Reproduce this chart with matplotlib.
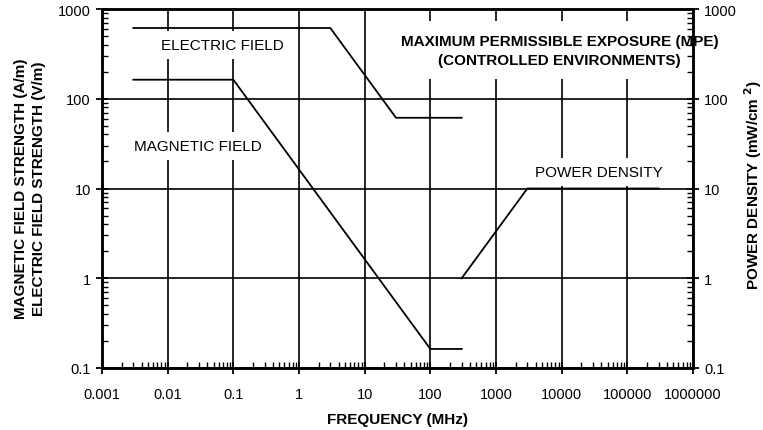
import numpy as np
import matplotlib.pyplot as plt
from matplotlib.ticker import FixedLocator, LogLocator, NullFormatter

plt.rcParams['font.family'] = ['Liberation Sans', 'DejaVu Sans']

# MPE limits, controlled environments (frequency in MHz)
e_freq = [0.003, 3, 30, 300]
e_field = [614, 614, 61.4, 61.4]          # V/m

h_freq = [0.003, 0.1, 100, 300]
h_field = [163, 163, 0.163, 0.163]        # A/m

s_freq = [300, 3000, 300000]
s_dens = [1, 10, 10]                      # mW/cm^2

xticks = [0.001, 0.01, 0.1, 1, 10, 100, 1000, 10000, 100000, 1000000]
xtick_labels = ['0.001', '0.01', '0.1', '1', '10', '100', '1000', '10000', '100000', '1000000']
yticks = [0.1, 1, 10, 100, 1000]
ytick_labels = ['0.1', '1', '10', '100', '1000']

fig = plt.figure(figsize=(7.63, 4.31), dpi=100)
ax = fig.add_axes([102/763, 1 - 369/431, 591/763, 359/431])

ax.set_xscale('log')
ax.set_yscale('log')
ax.set_xlim(0.001, 1000000)
ax.set_ylim(0.1, 1000)

ax.grid(True, which='major', color='black', lw=1.2)

lw = 1.3
ax.plot(e_freq, e_field, color='black', lw=lw, zorder=4)
ax.plot(h_freq, h_field, color='black', lw=lw, zorder=4)
ax.plot(s_freq, s_dens, color='black', lw=lw, zorder=4)

box = dict(facecolor='white', edgecolor='none', pad=5)
ax.text(0.067, 400, 'ELECTRIC FIELD', fontsize=11, ha='center', va='center', bbox=box, zorder=3)
ax.text(0.0284, 29.5, 'MAGNETIC FIELD', fontsize=11, ha='center', va='center', bbox=box, zorder=3)
ax.text(37000, 15.3, 'POWER DENSITY', fontsize=11, ha='center', va='center', bbox=box, zorder=3)
ax.text(9300, 345, 'MAXIMUM PERMISSIBLE EXPOSURE (MPE)\n(CONTROLLED ENVIRONMENTS)',
        fontsize=11, fontweight='bold', ha='center', va='center', linespacing=1.45,
        bbox=dict(facecolor='white', edgecolor='none', pad=9), zorder=3)

for s in ax.spines.values():
    s.set_linewidth(1.8)
    s.set_zorder(5)

ax.xaxis.set_major_locator(FixedLocator(xticks))
ax.set_xticklabels(xtick_labels)
ax.xaxis.set_minor_locator(LogLocator(base=10, subs=np.arange(2, 10), numticks=20))
ax.xaxis.set_minor_formatter(NullFormatter())
ax.yaxis.set_major_locator(FixedLocator(yticks))
ax.set_yticklabels(ytick_labels)
ax.yaxis.set_minor_locator(LogLocator(base=10, subs=np.arange(2, 10), numticks=20))
ax.yaxis.set_minor_formatter(NullFormatter())

ax.tick_params(axis='both', which='major', direction='inout', length=9, width=1.3, labelsize=10.5)
ax.tick_params(axis='x', which='major', pad=9)
ax.tick_params(axis='both', which='minor', direction='in', length=4, width=1.0)

ax2 = ax.twinx()
ax2.set_yscale('log')
ax2.set_ylim(0.1, 1000)
ax2.yaxis.set_major_locator(FixedLocator(yticks))
ax2.set_yticklabels(ytick_labels)
ax2.yaxis.set_minor_locator(LogLocator(base=10, subs=np.arange(2, 10), numticks=20))
ax2.yaxis.set_minor_formatter(NullFormatter())
ax2.tick_params(axis='y', which='major', direction='inout', length=9, width=1.3, labelsize=10.5)
ax2.tick_params(axis='y', which='minor', direction='in', length=4, width=1.0)
for s in ax2.spines.values():
    s.set_linewidth(1.8)

fig.text(30/763, 1 - 189/431, 'MAGNETIC FIELD STRENGTH (A/m)\nELECTRIC FIELD STRENGTH (V/m)',
         rotation=90, ha='center', va='center', fontsize=11, fontweight='bold', linespacing=1.45)
fig.text(753/763, 1 - 185/431, 'POWER DENSITY (mW/cm $^{\\mathbf{2}}$)',
         rotation=90, ha='center', va='center', fontsize=11, fontweight='bold')
fig.text(398/763, 1 - 420/431, 'FREQUENCY (MHz)', ha='center', va='center',
         fontsize=11, fontweight='bold')

fig.savefig('out.png', dpi=100)
